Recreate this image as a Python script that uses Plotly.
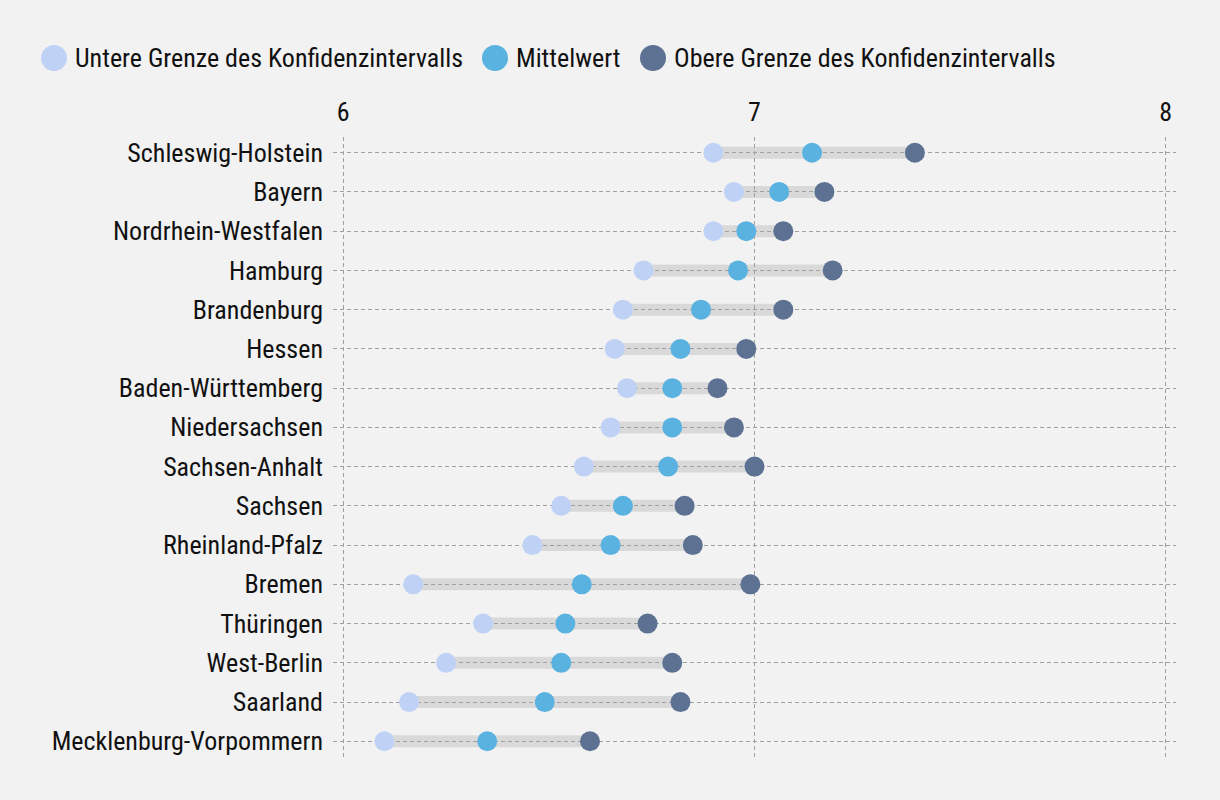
import plotly.graph_objects as go

states = ["Schleswig-Holstein", "Bayern", "Nordrhein-Westfalen", "Hamburg", "Brandenburg",
          "Hessen", "Baden-Württemberg", "Niedersachsen", "Sachsen-Anhalt", "Sachsen",
          "Rheinland-Pfalz", "Bremen", "Thüringen", "West-Berlin", "Saarland",
          "Mecklenburg-Vorpommern"]
lower = [6.90, 6.95, 6.90, 6.73, 6.68, 6.66, 6.69, 6.65, 6.585, 6.53, 6.46, 6.17, 6.34, 6.25, 6.16, 6.10]
mean = [7.14, 7.06, 6.98, 6.96, 6.87, 6.82, 6.80, 6.80, 6.79, 6.68, 6.65, 6.58, 6.54, 6.53, 6.49, 6.35]
upper = [7.39, 7.17, 7.07, 7.19, 7.07, 6.98, 6.91, 6.95, 7.00, 6.83, 6.85, 6.99, 6.74, 6.80, 6.82, 6.60]
x_ticks = [6, 7, 8]
series_names = ["Untere Grenze des Konfidenzintervalls", "Mittelwert",
                "Obere Grenze des Konfidenzintervalls"]

FONT = "Roboto Condensed, Liberation Sans Narrow, Roboto, sans-serif"
colors = ["#bfd2f6", "#5ab2e0", "#5d7192"]

W, H = 1220, 800
L, R, T, B = 333, 44, 137, 43
PW, PH = W - L - R, H - T - B


def px_to_paper_x(px):
    return (px - L) / PW


def px_to_paper_y(py):
    return (H - B - py) / PH


fig = go.Figure()
for s, lo, up in zip(states, lower, upper):
    fig.add_shape(type="line", xref="x", yref="y", x0=lo, x1=up, y0=s, y1=s,
                  line=dict(color="#d9d9d9", width=12), layer="below")

for name, vals, col in zip(series_names, [lower, mean, upper], colors):
    fig.add_trace(go.Scatter(x=vals, y=states, mode="markers", name=name,
                             marker=dict(color=col, size=20, line=dict(width=0)),
                             cliponaxis=False, showlegend=False, hoverinfo="skip"))

# custom legend (large circles)
leg_circle_x = [54, 495, 653]
leg_y = 58
r = 13
for cx, col, name in zip(leg_circle_x, colors, series_names):
    fig.add_shape(type="circle", xref="paper", yref="paper",
                  x0=px_to_paper_x(cx - r), x1=px_to_paper_x(cx + r),
                  y0=px_to_paper_y(leg_y + r), y1=px_to_paper_y(leg_y - r),
                  fillcolor=col, line=dict(width=0))
    fig.add_annotation(text=name, xref="paper", yref="paper",
                       x=px_to_paper_x(cx + r + 6), y=px_to_paper_y(leg_y),
                       xanchor="left", yanchor="middle", showarrow=False,
                       font=dict(size=26, color="#111111"))

grid = dict(showgrid=True, gridcolor="#a0a0a0", griddash="4px,3px", gridwidth=1.4,
            zeroline=False, showline=False, ticks="")

fig.update_layout(
    width=W, height=H,
    paper_bgcolor="#f2f2f2", plot_bgcolor="#f2f2f2",
    font=dict(family=FONT, size=26, color="#111111"),
    margin=dict(l=L, r=R, t=T, b=B),
    showlegend=False,
    xaxis=dict(range=[5.975, 8.025], side="top", tickvals=x_ticks,
               ticklabelstandoff=10, tickfont=dict(size=26), **grid),
    yaxis=dict(categoryorder="array", categoryarray=states, autorange=False,
               range=[15.4, -0.4], ticklabelstandoff=9, tickfont=dict(size=26), **grid),
)

fig.write_html(
    "out.html",
    config={"displayModeBar": False},
    post_script="document.body.style.margin='0';document.body.style.background='#f2f2f2';"
                "document.body.style.overflow='hidden';",
)
